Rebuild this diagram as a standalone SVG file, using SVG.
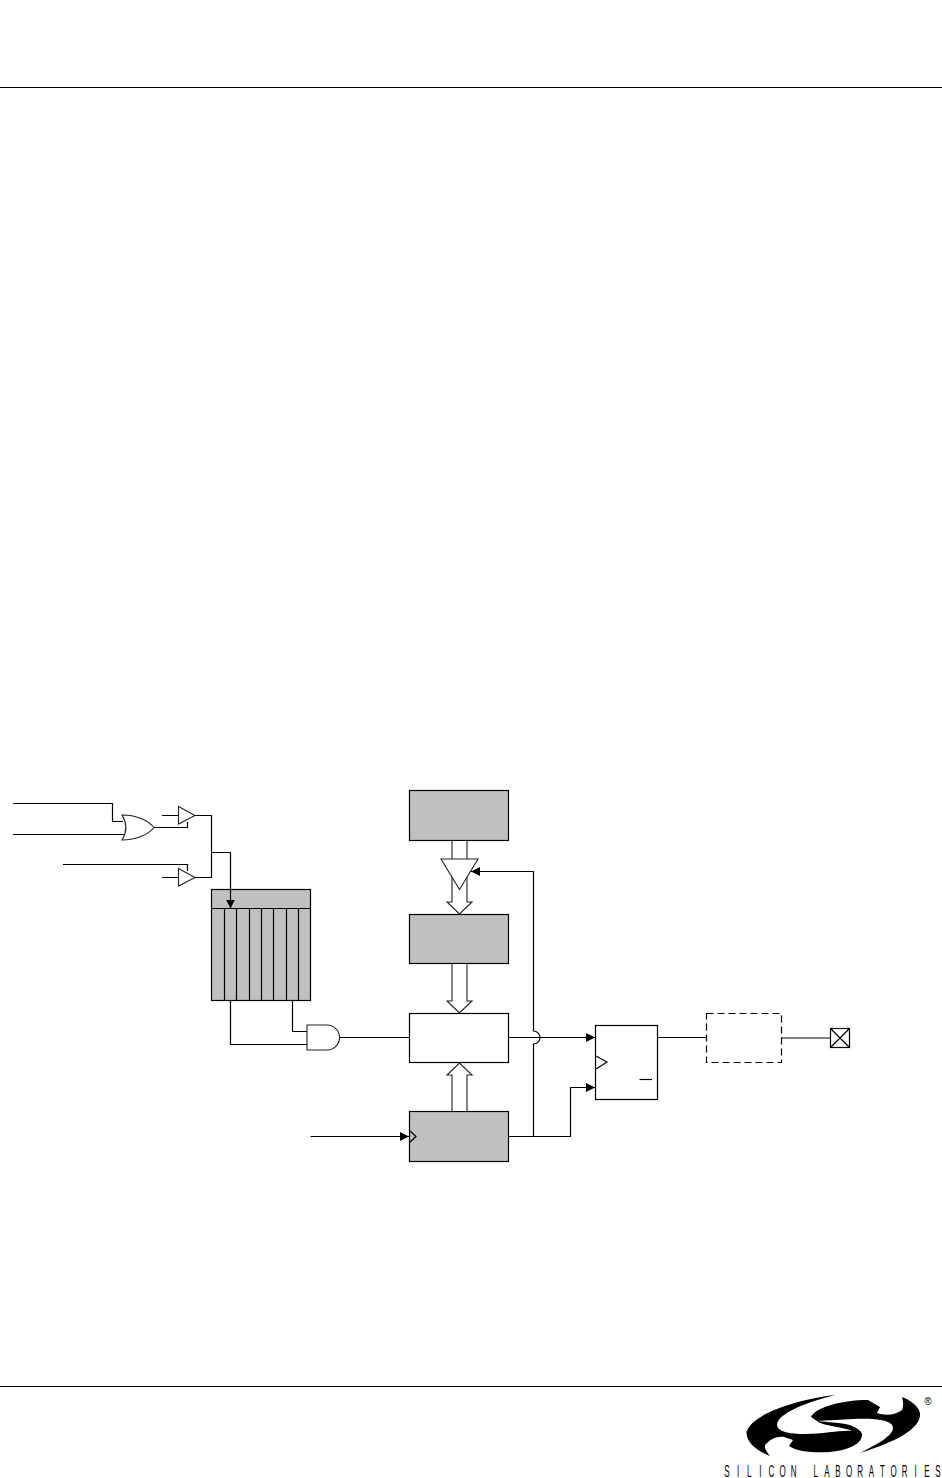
<svg xmlns="http://www.w3.org/2000/svg" width="942" height="1478" viewBox="0 0 942 1478">
<style>
.w{fill:none;stroke:#000;stroke-width:1.2}
.b{fill:#fff;stroke:#000;stroke-width:1.2}
.g{fill:#c0c0c0;stroke:#000;stroke-width:1.2}
.h{fill:#fff;stroke:#222;stroke-width:1.1}
.a{marker-end:url(#ah)}
.k{fill:#000;stroke:none}
.t{font-family:"Liberation Sans",Arial,sans-serif;fill:#000}
</style>
<defs>
<marker id="ah" markerUnits="userSpaceOnUse" markerWidth="9" markerHeight="9" refX="9" refY="4.5" orient="auto"><path d="M0,0L9,4.5L0,9Z" fill="#000"/></marker>
</defs>
<rect width="942" height="1478" fill="#fff"/>
<g id="page-rules">
<path class="w" d="M0,87.5H942M0,1386.5H942"/>
</g>
<g id="memory">
<rect class="g" x="211.5" y="889.5" width="99" height="111"/>
<path class="w" d="M211.5,908.5H310.5M224.5,908.5V1000.5M236.5,908.5V1000.5M249.5,908.5V1000.5M261.5,908.5V1000.5M273.5,908.5V1000.5M286.5,908.5V1000.5M298.5,908.5V1000.5"/>
</g>
<g id="block-top"><rect class="g" x="409.5" y="790.5" width="99" height="50"/></g>
<g id="block-mid"><rect class="g" x="409.5" y="914.5" width="99" height="49"/></g>
<g id="comparator"><rect class="b" x="409.5" y="1013.5" width="99" height="49"/></g>
<g id="counter">
<rect class="g" x="409.5" y="1111.5" width="99" height="50"/>
<path class="w" d="M409.5,1130.5L416,1136.5L409.5,1142.5"/>
</g>
<g id="flipflop">
<rect class="b" x="595.5" y="1025.5" width="62" height="74"/>
<path class="w" d="M596,1056L607,1062L596,1069"/>
<path class="w" d="M639.5,1079.5H652"/>
</g>
<g id="crossbar"><rect x="706.5" y="1013.5" width="75" height="49" fill="#fff" stroke="#000" stroke-width="1.2" stroke-dasharray="7 4"/></g>
<g id="pin">
<rect class="b" x="830.5" y="1028.5" width="19" height="19"/>
<path class="w" d="M830.5,1028.5L849.5,1047.5M849.5,1028.5L830.5,1047.5"/>
</g>
<g id="connectors">
<path class="w" d="M13,803.5H112.5V821.5H123"/>
<path class="w" d="M13,834.5H124"/>
<path class="w" d="M154,827.5H187.5V822"/>
<path class="w" d="M63,864.5H187.5V871"/>
<path class="w" d="M162,815.5H178M162,877.5H178"/>
<path class="w" d="M195,815.5H211.5V877.5H195"/>
<path class="w a" d="M211.5,852.5H230.5V908.5"/>
<path class="w" d="M230.5,1000.5V1044.5H307"/>
<path class="w" d="M292.5,1000.5V1031.5H307"/>
<path class="w" d="M340,1037.5H409.5"/>
<path class="w a" d="M508.5,1037.5H595"/>
<path class="w a" d="M533.5,1136.5V1044A6.5,6.5 0 0 0 533.5,1031V871.5H471"/>
<path class="w a" d="M508.5,1136.5H570.5V1087.5H595"/>
<path class="w a" d="M310.5,1136.5H409"/>
<path class="w" d="M657.5,1037.5H706.5"/>
<path d="M781,1038H830.5" fill="none" stroke="#000" stroke-width="1"/>
<path class="h" d="M452,841V902H447L459.5,914L472,902H467V841"/>
<path class="h" d="M452,964V1001H447L459.5,1013L472,1001H467V964"/>
<path class="h" d="M452,1111V1075H447L459.5,1063L472,1075H467V1111"/>
</g>
<g id="tristate"><path class="h" d="M441,859H478L459.5,889.5Z"/></g>
<g id="or-gate"><path class="h" d="M122,815C136,815 148,820 154,827.5C148,835 136,840 122,840C127,832 127,823 122,815Z"/></g>
<g id="buffer-1"><path class="h" d="M178.5,806.5L195,815.5L178.5,824Z"/></g>
<g id="buffer-2"><path class="h" d="M178.5,868.5L195,877.5L178.5,886Z"/></g>
<g id="and-gate"><path class="h" d="M307,1025H327A12.5,12.5 0 0 1 327,1050H307Z"/></g>
<g id="logo">
<path class="k" d="M835,1395C800,1399 752,1413 746.5,1432C746,1443 758,1451 770,1456C765,1450 763,1446 767,1443C772,1438 778,1436 784,1437L793,1440L789,1446C797,1452 815,1453 830,1452C850,1450 863,1443 862,1434C860,1428 850,1424 838,1423L817,1421C822,1426 840,1426 852,1431C840,1430 825,1434 805,1434C790,1434 778,1432 777,1425C777,1415 800,1404 835,1395Z"/>
<path class="k" d="M811,1417C815,1408 840,1400 868,1400L880,1407L877,1413C885,1416 896,1415 902,1410C904,1405 903,1401 902,1397C915,1402 921,1410 920,1416C918,1430 895,1442 860,1453C880,1443 893,1435 893,1428C893,1420 875,1418 853,1419L817,1421Z"/>
<text class="t" x="928" y="1405" font-size="10" text-anchor="middle">®</text>
<text class="t" transform="translate(0,1477) scale(.5,1)" font-size="16" text-anchor="middle" x="1454 1476.2 1498.4 1520.6 1542.8 1565 1587.2 1609.4 1631.6 1653.8 1676 1698.2 1720.4 1742.6 1764.8 1787 1809.2 1831.4 1853.6 1875.8" y="0">SILICON LABORATORIES</text>
</g>
</svg>
